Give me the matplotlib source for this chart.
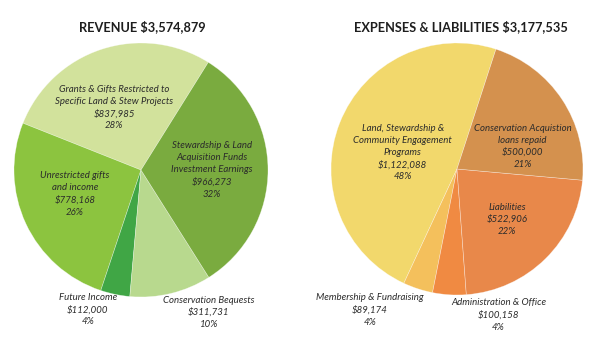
import matplotlib.pyplot as plt

# Revenue breakdown (counter-clockwise from the top-right edge)
rev_labels = [
    "Grants & Gifts Restricted to\nSpecific Land & Stew Projects",
    "Unrestricted gifts\nand income",
    "Future Income",
    "Conservation Bequests",
    "Stewardship & Land\nAcquisition Funds\nInvestment Earnings",
]
rev_values = [837985, 778168, 112000, 311731, 966273]
rev_pcts = ["28%", "26%", "4%", "10%", "32%"]
rev_colors = ["#d2e29c", "#8cc43f", "#40a645", "#b8d98e", "#7aab3f"]
rev_title = "REVENUE $3,574,879"

# Expenses & liabilities breakdown
exp_labels = [
    "Land, Stewardship &\nCommunity Engagement\nPrograms",
    "Membership & Fundraising",
    "Administration & Office",
    "Liabilities",
    "Conservation Acquistion\nloans repaid",
]
exp_values = [1122088, 89174, 100158, 522906, 500000]
exp_pcts = ["48%", "4%", "4%", "22%", "21%"]
exp_colors = ["#f2d86c", "#f4c05c", "#f08a42", "#e8884a", "#d4914e"]
exp_title = "EXPENSES & LIABILITIES $3,177,535"

# label anchor points, in units of the pie radius
rev_text_pos = [(-0.21, 0.49), (-0.52, -0.19), (-0.42, -1.10), (0.53, -1.12), (0.56, 0.0)]
exp_text_pos = [(-0.43, 0.13), (-0.69, -1.12), (0.33, -1.16), (0.40, -0.40), (0.52, 0.18)]

W, H = 600, 345
fig = plt.figure(figsize=(6, 3.45), dpi=100)


def money(v):
    return "${:,}".format(v)


def draw_pie(cx, cy, r, values, colors, startangle, labels, pcts, text_pos, title, title_x):
    ax = fig.add_axes([(cx - r) / W, (H - cy - r) / H, 2 * r / W, 2 * r / H])
    ax.pie(values, colors=colors, startangle=startangle, counterclock=True,
           wedgeprops=dict(linewidth=0.4, edgecolor="#ffffff80"))
    ax.set_xlim(-1, 1)
    ax.set_ylim(-1, 1)
    ax.set_aspect("auto")
    ax.axis("off")
    for lab, v, p, (tx, ty) in zip(labels, values, pcts, text_pos):
        ax.text(tx, ty, f"{lab}\n{money(v)}\n{p}", ha="center", va="center",
                fontsize=6.9, style="italic", family="Lato", color="#2b2b2b",
                linespacing=1.42, clip_on=False)
    fig.text(title_x / W, 1 - 27 / H, title, ha="center", va="center",
             fontsize=9.2, weight="bold", family="Lato", color="#1e1e1e")


draw_pie(141, 170, 127, rev_values, rev_colors, 58, rev_labels, rev_pcts,
         rev_text_pos, rev_title, 142)
draw_pie(457, 169, 126, exp_values, exp_colors, 72, exp_labels, exp_pcts,
         exp_text_pos, exp_title, 461)

fig.savefig("out.png", dpi=100, facecolor="white")
